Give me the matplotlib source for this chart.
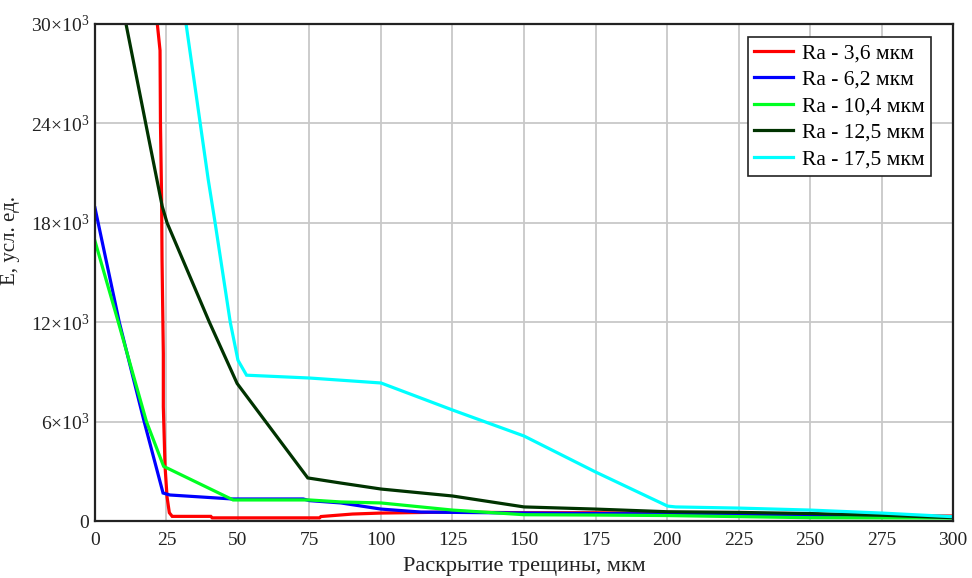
import matplotlib
matplotlib.use("Agg")
import matplotlib.pyplot as plt
from matplotlib.ticker import FixedLocator, FuncFormatter

plt.rcParams['font.family'] = ['Liberation Serif', 'DejaVu Serif']
plt.rcParams['mathtext.fontset'] = 'custom'
plt.rcParams['mathtext.rm'] = 'Liberation Serif'
plt.rcParams['mathtext.it'] = 'Liberation Serif'

# Crack opening, um  /  E, conventional units
x_36 = [21.8, 22.75, 22.9, 23.3, 23.45, 23.9, 23.9, 24.5, 25.2, 26.0, 27.0, 40.5, 41.0, 78.5, 79.0, 90, 100, 125, 150, 175, 200, 250, 300]
y_36 = [30000, 28400, 24000, 19400, 15750, 10100, 6900, 3300, 1450, 500, 280, 280, 190, 190, 270, 420, 480, 540, 500, 500, 450, 380, 300]

x_62 = [0, 8.5, 17.2, 23.8, 26.2, 48, 72.8, 75, 86, 100, 114, 150, 200, 250, 300]
y_62 = [18900, 12000, 6000, 1690, 1570, 1330, 1330, 1230, 1090, 720, 540, 480, 420, 350, 250]

x_104 = [0, 8, 18, 24, 48.3, 75, 86, 100, 125, 150, 175, 200, 250, 300]
y_104 = [16900, 12100, 6000, 3300, 1270, 1270, 1150, 1090, 660, 380, 360, 330, 200, 180]

x_125 = [10.85, 18.2, 23.5, 25.2, 40, 49.7, 74.4, 86, 100, 125, 150, 175, 200, 225, 250, 275, 300]
y_125 = [30000, 23600, 19000, 18000, 12000, 8300, 2600, 2290, 1930, 1510, 850, 720, 560, 520, 450, 350, 200]

x_175 = [31.85, 39.6, 42, 47.3, 50, 53, 75, 90, 100, 125, 150, 175, 200.2, 203, 225, 250, 275, 300]
y_175 = [30000, 20600, 18000, 12000, 9700, 8800, 8630, 8450, 8330, 6700, 5130, 2960, 900, 850, 780, 660, 480, 260]

series = [
    (x_36, y_36, '#ff0000', 'Ra - 3,6 мкм'),
    (x_62, y_62, '#0000ff', 'Ra - 6,2 мкм'),
    (x_104, y_104, '#00ff22', 'Ra - 10,4 мкм'),
    (x_125, y_125, '#003300', 'Ra - 12,5 мкм'),
    (x_175, y_175, '#00ffff', 'Ra - 17,5 мкм'),
]

x_ticks = [0, 25, 50, 75, 100, 125, 150, 175, 200, 225, 250, 275, 300]
y_ticks = [0, 6000, 12000, 18000, 24000, 30000]
x_label = 'Раскрытие трещины, мкм'
y_label = 'E, усл. ед.'

fig = plt.figure(figsize=(9.72, 5.78), dpi=100)
ax = fig.add_axes([0.0977, 0.0986, 0.8828, 0.86])

for xs, ys, color, label in series:
    ax.plot(xs, ys, color=color, lw=2.3, label=label, solid_joinstyle='miter')

ax.set_xlim(0, 300)
ax.set_ylim(0, 30000)
ax.xaxis.set_major_locator(FixedLocator(x_ticks))
ax.yaxis.set_major_locator(FixedLocator(y_ticks))


def y_fmt(v, pos):
    if v == 0:
        return '0'
    return r'$%d{\times}10^{3}$' % int(round(v / 1000))


ax.yaxis.set_major_formatter(FuncFormatter(y_fmt))
ax.tick_params(axis='both', length=0, labelsize=14, colors='#222222')
ax.tick_params(axis='x', pad=8)
ax.tick_params(axis='y', pad=4)
ax.grid(True, color='#c8c8c8', lw=1.3)
ax.set_axisbelow(True)
for sp in ax.spines.values():
    sp.set_color('#222222')
    sp.set_linewidth(1.6)

ax.set_xlabel(x_label, fontsize=16, labelpad=6, color='#222222')
ax.set_ylabel(y_label, fontsize=15, color='#222222')
ax.yaxis.set_label_coords(-0.087, 0.565)

leg = ax.legend(loc='upper right', bbox_to_anchor=(0.974, 0.974), fontsize=15.5,
                fancybox=False, framealpha=1, edgecolor='#222222',
                handlelength=1.8, handletextpad=0.4, borderpad=0.3,
                labelspacing=0.3, borderaxespad=0)
leg.get_frame().set_linewidth(1.2)

fig.savefig('out.png', dpi=100)
